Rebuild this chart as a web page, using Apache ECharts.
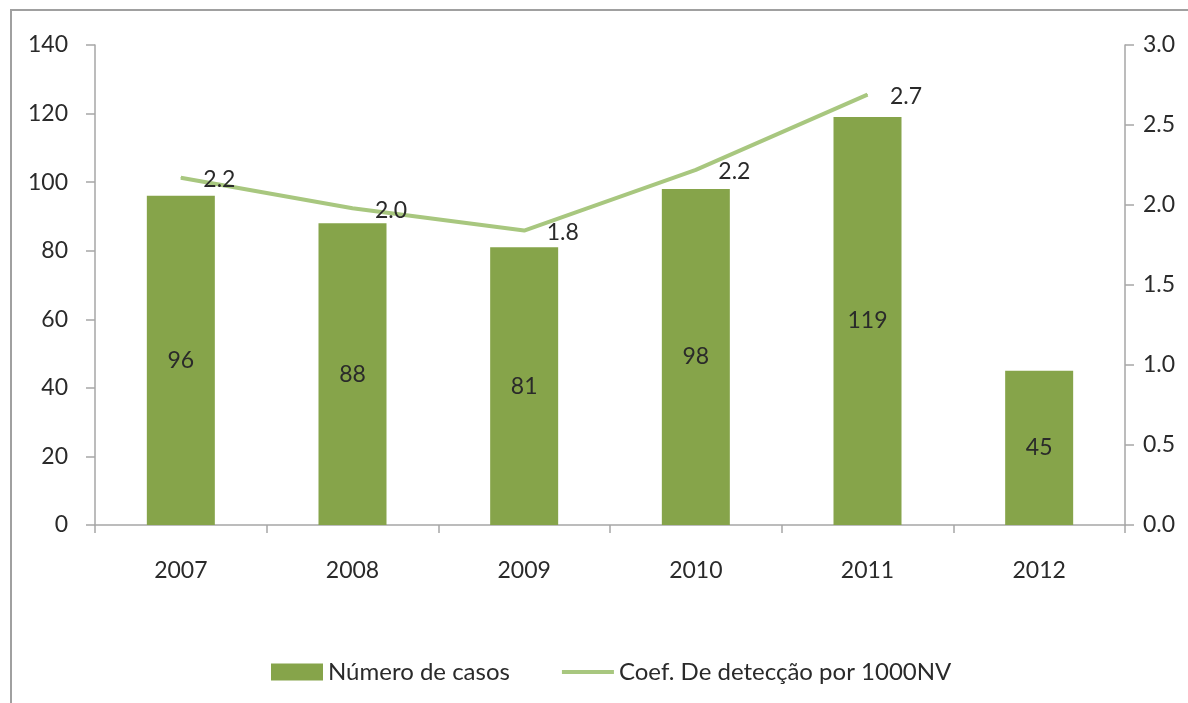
<!DOCTYPE html>
<html><head><meta charset="utf-8">
<script src="https://cdn.jsdelivr.net/npm/echarts@6/dist/echarts.min.js"></script>
<style>html,body{margin:0;padding:0;background:#fff}#c{width:1188px;height:703px}</style>
</head><body><div id="c"></div>
<script>
const categories = ['2007','2008','2009','2010','2011','2012'];
const casos = [96, 88, 81, 98, 119, 45];
const coef = [2.17, 1.98, 1.84, 2.22, 2.69, null];
const leftTicks = [0, 140, 20];
const rightTicks = [0, 3, 0.5];

const font = 'Lato';
const txt = '#2a2a2a';
const axisCol = '#a6a6a6';
const chart = echarts.init(document.getElementById('c'));
chart.setOption({
  animation: false,
  textStyle: {fontFamily: font},
  graphic: [{type:'rect', shape:{x:11, y:10, width:1250, height:760}, style:{fill:'none', stroke:'#a0a0a0', lineWidth:2}}],
  grid: {left:95, right:63, top:45, bottom:178},
  legend: {
    left: 266, top: 655, itemWidth: 52, itemHeight: 17, itemGap: 52,
    textStyle: {fontFamily: font, fontSize: 24, color: txt},
    data: [{name:'Número de casos', icon:'rect'},
           {name:'Coef. De detecção por 1000NV', icon:'path://M0 0H52V4H0Z'}]
  },
  xAxis: {
    type:'category', data: categories,
    axisLine:{lineStyle:{color:axisCol, width:1.5}},
    axisTick:{show:true, length:8, lineStyle:{color:axisCol, width:1.5}},
    axisLabel:{fontFamily:font, fontSize:23, color:txt, margin:34}
  },
  yAxis: [{
    type:'value', min:leftTicks[0], max:leftTicks[1], interval:leftTicks[2],
    axisLine:{show:true, lineStyle:{color:axisCol, width:1.5}},
    axisTick:{show:true, length:9, lineStyle:{color:axisCol, width:1.5}},
    splitLine:{show:false},
    axisLabel:{fontFamily:font, fontSize:23, color:txt, margin:27}
  },{
    type:'value', min:rightTicks[0], max:rightTicks[1], interval:rightTicks[2], position:'right',
    axisLine:{show:true, lineStyle:{color:axisCol, width:1.5}},
    axisTick:{show:true, length:9, lineStyle:{color:axisCol, width:1.5}},
    splitLine:{show:false},
    axisLabel:{fontFamily:font, fontSize:23, color:txt, margin:18, formatter: v => v.toFixed(1)}
  }],
  series: [{
    name:'Número de casos', type:'bar', data: casos, barWidth: 68,
    itemStyle:{color:'#86a44a'},
    label:{show:true, position:'inside', fontFamily:font, fontSize:23, color:txt}
  },{
    name:'Coef. De detecção por 1000NV', type:'line', yAxisIndex:1, data: coef,
    showSymbol:true, symbol:'circle', symbolSize:1,
    lineStyle:{color:'#a8c77f', width:4},
    itemStyle:{color:'#a8c77f'},
    label:{show:true, position:'right', distance:22, offset:[0,2], fontFamily:font, fontSize:23, color:txt,
      formatter: p => p.value == null ? '' : p.value.toFixed(1)}
  }]
});
</script></body></html>
